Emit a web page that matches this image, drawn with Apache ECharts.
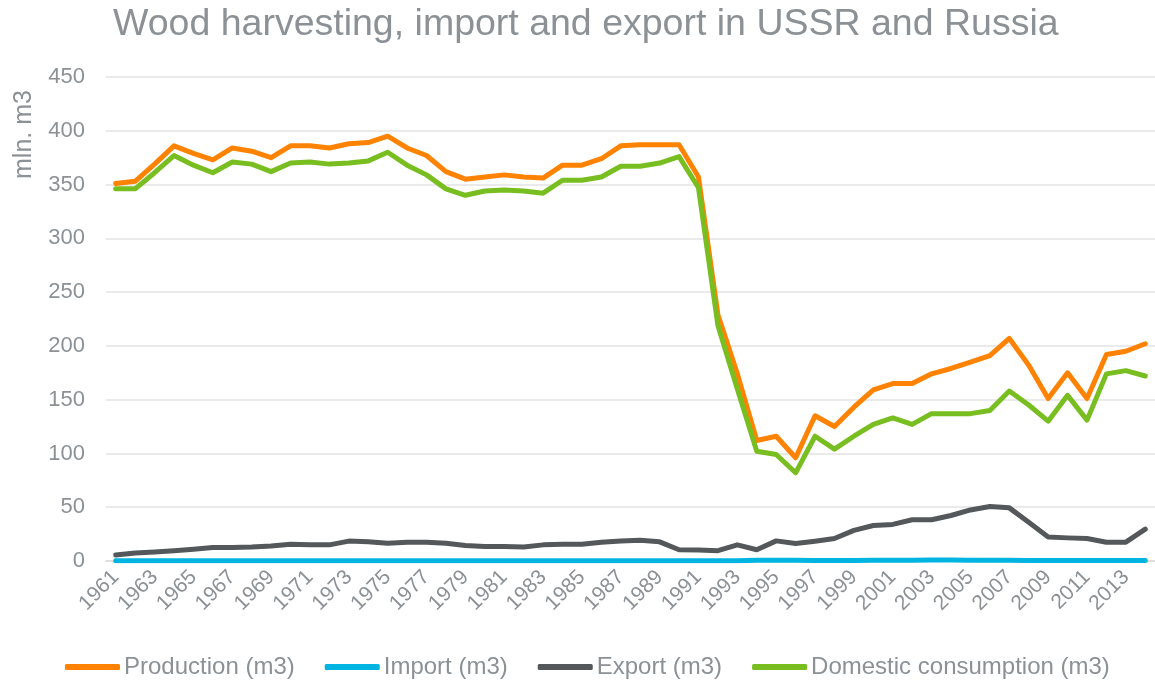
<!DOCTYPE html>
<html>
<head>
<meta charset="utf-8">
<script src="https://cdn.jsdelivr.net/npm/echarts@6/dist/echarts.min.js"></script>
<style>
  html, body { margin: 0; padding: 0; background: #fff; }
  #chart { width: 1155px; height: 684px; }
</style>
</head>
<body>
<div id="chart"></div>
<script>
const years = [];
for (let y = 1961; y <= 2014; y++) years.push(String(y));

const production = [
  351, 353, 369, 386, 379, 373, 384, 381, 375, 386,
  386, 384, 388, 389, 395, 384, 377, 362, 355, 357,
  359, 357, 356, 368, 368, 374, 386, 387, 387, 387,
  357, 229, 174, 112, 116, 96, 135, 125, 143, 159,
  165, 165, 174, 179, 185, 191, 207, 182, 151, 175,
  151, 192, 195, 202
];
const importVals = [
  0.3, 0.3, 0.3, 0.3, 0.3, 0.3, 0.3, 0.3, 0.3, 0.3,
  0.3, 0.3, 0.3, 0.3, 0.3, 0.3, 0.3, 0.3, 0.3, 0.3,
  0.3, 0.3, 0.3, 0.3, 0.3, 0.3, 0.3, 0.3, 0.3, 0.3,
  0.3, 0.3, 0.3, 0.8, 0.8, 0.6, 0.5, 0.5, 0.4, 0.8,
  0.8, 0.6, 0.9, 0.9, 0.8, 0.8, 0.6, 0.5, 0.4, 0.4,
  0.4, 0.4, 0.4, 0.4
];
const exportVals = [
  5.6, 7.5, 8.3, 9.5, 11, 12.5, 12.5, 13, 14, 15.5,
  15, 15, 18.5, 18, 16.5, 17.5, 17.5, 16.5, 14.5, 13.5,
  13.5, 13, 15, 15.5, 15.5, 17.5, 18.5, 19.3, 17.8, 10.5,
  10.2, 9.6, 15, 10.5, 18.7, 16.3, 18.4, 20.9, 28.5, 33,
  34, 38.3, 38.3, 42.3, 47.5, 50.6, 49.4, 36, 22.4, 21.5,
  20.9, 17.5, 17.5, 29.6
];
const consumption = [
  346, 346, 361, 377, 368, 361, 371, 369, 362, 370,
  371, 369, 370, 372, 380, 368, 359, 346, 340, 344,
  345, 344, 342, 354, 354, 357, 367, 367, 370, 376,
  347, 219, 160, 102, 99, 82, 116, 104, 116, 127,
  133, 127, 137, 137, 137, 140, 158, 145, 130, 154,
  131, 174, 177, 172
];

const textColor = '#8c9196';
const font = 'Liberation Sans';

const chart = echarts.init(document.getElementById('chart'));

function line(name, data, color) {
  return {
    name: name,
    type: 'line',
    data: data,
    symbol: 'none',
    lineStyle: { color: color, width: 5, cap: 'round', join: 'round' },
    itemStyle: { color: color },
  };
}

chart.setOption({
  animation: false,
  backgroundColor: '#fff',
  title: {
    text: 'Wood harvesting, import and export in USSR and Russia',
    left: 108,
    top: 1,
    textStyle: { fontFamily: font, fontSize: 37.5, fontWeight: 'normal', color: textColor },
  },
  grid: { left: 106, right: -4, top: 77, bottom: 123 },
  legend: {
    bottom: 0,
    left: 60,
    icon: 'roundRect',
    itemWidth: 55,
    itemHeight: 6,
    itemGap: 30,
    textStyle: { fontFamily: font, fontSize: 24, color: textColor, padding: [0, 0, 0, -1] },
    data: ['Production (m3)', 'Import (m3)', 'Export (m3)', 'Domestic consumption (m3)'],
  },
  xAxis: {
    type: 'category',
    data: years,
    boundaryGap: true,
    axisLine: { show: true, lineStyle: { color: '#dcdcdc', width: 1.5 } },
    axisTick: { show: false },
    axisLabel: {
      interval: 1,
      rotate: 45,
      margin: 13,
      fontFamily: font,
      fontSize: 21,
      color: textColor,
    },
  },
  yAxis: {
    type: 'value',
    min: 0,
    max: 450,
    interval: 50,
    axisLine: { show: false },
    axisTick: { show: false },
    splitLine: { lineStyle: { color: '#e3e3e3', width: 1.5 } },
    axisLabel: { fontFamily: font, fontSize: 22, color: textColor, margin: 21 },
  },
  graphic: [
    {
      type: 'text',
      x: 12,
      y: 179,
      rotation: Math.PI / 2,
      style: { text: 'mln. m3', font: '25px "Liberation Sans"', fill: textColor },
    },
  ],
  series: [
    line('Production (m3)', production, '#ff8200'),
    line('Import (m3)', importVals, '#00b4e1'),
    line('Export (m3)', exportVals, '#54585a'),
    line('Domestic consumption (m3)', consumption, '#78be20'),
  ],
});
</script>
</body>
</html>
